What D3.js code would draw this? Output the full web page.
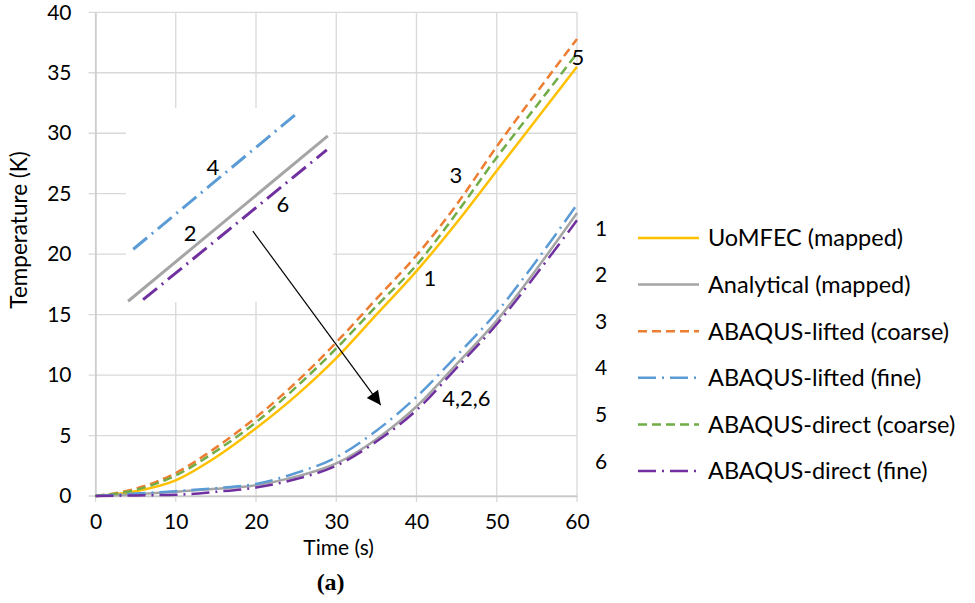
<!DOCTYPE html>
<html><head><meta charset="utf-8">
<script src="https://cdn.jsdelivr.net/npm/d3@7"></script>
<style>
body{margin:0;background:#fff}
text{font-family:Lato,"Open Sans",sans-serif;fill:#000}
</style>
</head><body>
<svg id="chart" width="975" height="603"></svg>
<script>
// ---- data ----
const times = [0, 5, 10, 15, 20, 25, 30, 35, 40, 45, 50, 55, 60];
const uomfecMapped     = [0, 0.4, 1.3, 3.2, 5.6, 8.3, 11.4, 15.0, 18.6, 22.6, 26.9, 31.2, 35.5];
const analyticalMapped = [0, 0.15, 0.35, 0.6, 0.9, 1.6, 2.7, 4.7, 7.4, 10.9, 14.5, 18.8, 23.4];
const liftedCoarse     = [0, 0.6, 1.9, 4.0, 6.5, 9.4, 12.7, 16.3, 19.9, 24.1, 28.9, 33.4, 37.8];
const liftedFine       = [0, 0.2, 0.4, 0.65, 1.0, 1.9, 3.2, 5.4, 8.2, 11.6, 15.2, 19.5, 24.1];
const directCoarse     = [0, 0.5, 1.7, 3.7, 6.1, 9.0, 12.2, 15.7, 19.1, 23.4, 28.0, 32.3, 36.6];
const directFine       = [0, 0.05, 0.1, 0.35, 0.7, 1.4, 2.5, 4.5, 7.1, 10.6, 14.2, 18.4, 22.8];

const seriesNames = ["UoMFEC (mapped)", "Analytical (mapped)", "ABAQUS-lifted (coarse)",
                     "ABAQUS-lifted (fine)", "ABAQUS-direct (coarse)", "ABAQUS-direct (fine)"];
const seriesNumbers = ["1", "2", "3", "4", "5", "6"];

const xTicks = [0, 10, 20, 30, 40, 50, 60];
const yTicks = [0, 5, 10, 15, 20, 25, 30, 35, 40];

// zoomed inset (magnified view near t≈35 s)
const insetAnalytical = [[33.54, 3.61], [37.40, 5.74]];
const insetLiftedFine = [[33.64, 4.28], [36.82, 6.04]];
const insetDirectFine = [[33.83, 3.63], [37.38, 5.56]];

// ---- styles ----
const colors = ["#FFC000", "#A5A5A5", "#ED7D31", "#5B9BD5", "#70AD47", "#7030A0"];
const dashes = [null, null, "9,5", "18,6,2,6", "9,5", "18,6,2,6"];
const widths = [2.5, 2.5, 2.5, 2.5, 2.5, 2.5];

const svg = d3.select("#chart");
const x = d3.scaleLinear().domain([0, 60]).range([95.5, 577]);
const y = d3.scaleLinear().domain([0, 40]).range([496, 12.3]);

const gridColor = "#d9d9d9";

// gridlines
svg.append("g").selectAll("line").data(yTicks).join("line")
  .attr("x1", x(0) - 7).attr("x2", x(60))
  .attr("y1", d => y(d)).attr("y2", d => y(d))
  .attr("stroke", gridColor).attr("stroke-width", 1.3);
svg.append("g").selectAll("line").data(xTicks).join("line")
  .attr("x1", d => x(d)).attr("x2", d => x(d))
  .attr("y1", y(40)).attr("y2", y(0) + 6)
  .attr("stroke", gridColor).attr("stroke-width", 1.3);

// axes
const yAxis = svg.append("g").attr("transform", `translate(${x(0)},0)`)
  .call(d3.axisLeft(y).tickValues(yTicks).tickSize(0).tickPadding(24));
yAxis.select(".domain").attr("stroke", "#c8c8c8").attr("stroke-width", 1.3);
yAxis.selectAll("text").style("font-size", "21px");
const xAxis = svg.append("g").attr("transform", `translate(0,${y(0)})`)
  .call(d3.axisBottom(x).tickValues(xTicks).tickSize(0).tickPadding(18));
xAxis.select(".domain").attr("stroke", "#c8c8c8").attr("stroke-width", 1.3);
xAxis.selectAll("text").style("font-size", "21px");

// axis titles
svg.append("text").attr("x", x(30.3)).attr("y", 555).attr("text-anchor", "middle")
  .style("font-size", "21px").text("Time (s)");
svg.append("text").attr("transform", `translate(27,${y(22)}) rotate(-90)`)
  .attr("text-anchor", "middle").style("font-size", "22.5px").text("Temperature (K)");
svg.append("text").attr("x", x(29.3)).attr("y", 590).attr("text-anchor", "middle")
  .style("font-family", "'Liberation Serif','DejaVu Serif',serif").style("font-weight", "bold")
  .style("font-size", "24px").text("(a)");

// ---- inset ----
const ix = d3.scaleLinear().domain([33.5, 37.5]).range([126, 333]);
const iy = d3.scaleLinear().domain([3.6, 6.1]).range([302, 108]);
svg.append("rect").attr("x", ix(33.5)).attr("y", iy(6.1))
  .attr("width", ix(37.5) - ix(33.5)).attr("height", iy(3.6) - iy(6.1)).attr("fill", "#fff");

// main series
const allSeries = [uomfecMapped, analyticalMapped, liftedCoarse, liftedFine, directCoarse, directFine];
const line = d3.line().x((d, i) => x(times[i])).y(d => y(d)).curve(d3.curveMonotoneX);
const drawOrder = [0, 1, 2, 4, 3, 5];
drawOrder.forEach(k => {
  svg.append("path").datum(allSeries[k]).attr("d", line)
    .attr("fill", "none").attr("stroke", colors[k]).attr("stroke-width", widths[k])
    .attr("stroke-dasharray", dashes[k]);
});

// inset lines
const iline = d3.line().x(d => ix(d[0])).y(d => iy(d[1]));
[[insetLiftedFine, 3], [insetAnalytical, 1], [insetDirectFine, 5]].forEach(([data, k]) => {
  svg.append("path").datum(data).attr("d", iline)
    .attr("fill", "none").attr("stroke", colors[k]).attr("stroke-width", 3)
    .attr("stroke-dasharray", dashes[k]);
});
[["4", 35.18, 5.34], ["2", 34.74, 4.49], ["6", 36.53, 4.86]].forEach(([t, a, b]) => {
  svg.append("text").attr("x", ix(a)).attr("y", iy(b)).attr("dy", "0.36em")
    .attr("text-anchor", "middle").style("font-size", "22px").text(t);
});

// arrow
svg.append("defs").append("marker").attr("id", "ah")
  .attr("viewBox", "0 0 10 10").attr("refX", 10).attr("refY", 5)
  .attr("markerWidth", 17).attr("markerHeight", 14).attr("markerUnits", "userSpaceOnUse")
  .attr("orient", "auto")
  .append("path").attr("d", "M0,0L10,5L0,10Z").attr("fill", "#000");
svg.append("line").attr("x1", x(19.61)).attr("y1", y(21.9)).attr("x2", x(35.54)).attr("y2", y(7.52))
  .attr("stroke", "#000").attr("stroke-width", 1.2).attr("marker-end", "url(#ah)");

// curve annotations
[["1", 41.66, 18.0, "middle"], ["3", 44.9, 26.5, "middle"], ["5", 60.1, 36.3, "middle"], ["4,2,6", 43.2, 8.1, "start"]]
  .forEach(([t, a, b, anc]) => {
    svg.append("text").attr("x", x(a)).attr("y", y(b)).attr("dy", "0.36em")
      .attr("text-anchor", anc).style("font-size", "22px").text(t);
  });

// legend
const lg = svg.append("g");
seriesNames.forEach((name, i) => {
  const cy = 238 + i * 46.6;
  lg.append("line").attr("x1", 638).attr("x2", 699).attr("y1", cy).attr("y2", cy)
    .attr("stroke", colors[i]).attr("stroke-width", 2.5).attr("stroke-dasharray", dashes[i]);
  lg.append("text").attr("x", 708).attr("y", cy).attr("dy", "0.36em")
    .style("font-size", "23.5px").text(name);
  lg.append("text").attr("x", 601).attr("y", cy - 10).attr("dy", "0.36em")
    .attr("text-anchor", "middle").style("font-size", "21px").text(seriesNumbers[i]);
});
</script>
</body></html>
